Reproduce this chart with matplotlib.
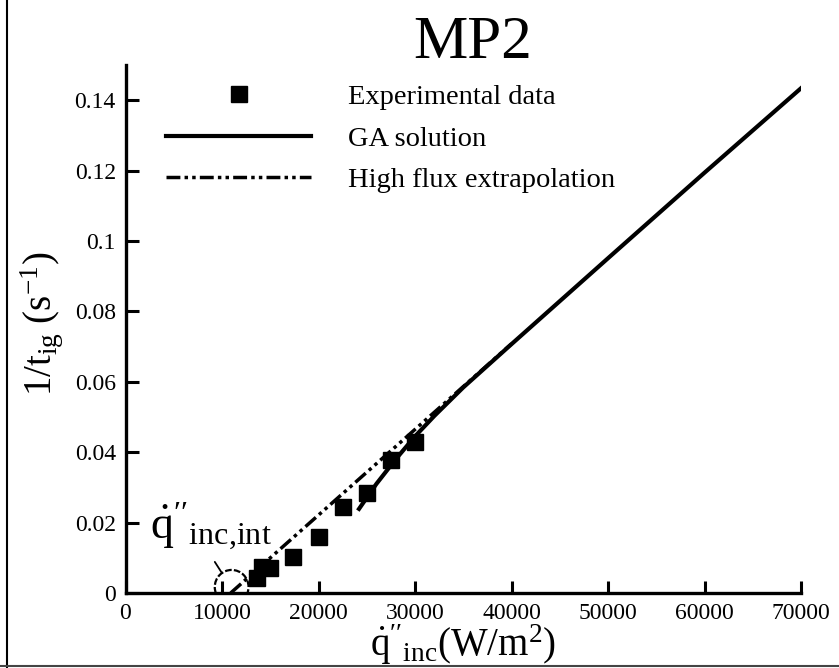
import numpy as np
import matplotlib
matplotlib.use("Agg")
import matplotlib.pyplot as plt
from matplotlib.patches import Ellipse
from matplotlib.lines import Line2D
from matplotlib.ticker import FuncFormatter

plt.rcParams['font.family'] = ['Liberation Serif', 'DejaVu Serif']
plt.rcParams['mathtext.fontset'] = 'custom'
plt.rcParams['mathtext.rm'] = 'Liberation Serif'
plt.rcParams['mathtext.it'] = 'Liberation Serif:italic'

# experimental points (incident flux W/m2, 1/t_ig 1/s)
exp_flux = [13600, 14100, 15000, 17400, 20000, 22500, 25000, 27500, 30000]
exp_rate = [0.0042, 0.0075, 0.0070, 0.0103, 0.0160, 0.0245, 0.0284, 0.0378, 0.0428]

# GA solution curve
ga_flux = [24200, 26000, 28000, 30000, 32000, 35000, 40000, 50000, 60000, 70000]
ga_rate = [0.0239, 0.0310, 0.0380, 0.0445, 0.0503, 0.0584, 0.0707, 0.0951, 0.1194, 0.1434]

# high flux linear extrapolation
hf_flux = [10900, 40000]
hf_rate = [0.0, 0.0708]

# critical flux marker
crit_flux = 11000
crit_rate = 0.0017

xticks = [0, 10000, 20000, 30000, 40000, 50000, 60000, 70000]
yticks = [0, 0.02, 0.04, 0.06, 0.08, 0.1, 0.12, 0.14]

W, H = 839, 668
fig = plt.figure(figsize=(W / 100, H / 100), dpi=100)
ax = fig.add_axes([125.5 / W, 1 - 593 / H, 675.5 / W, 528 / H])

ax.plot(hf_flux, hf_rate, color='black', lw=2.5,
        linestyle=(0, (4, 1.2, 1, 1.2, 1, 1.2)), label='High flux extrapolation', zorder=3)
ax.plot(ga_flux, ga_rate, color='black', lw=3, label='GA solution', zorder=4)
ax.plot(exp_flux, exp_rate, 's', color='black', ms=11, label='Experimental data', zorder=5)

# dashed circle around the critical flux
circ = Ellipse((crit_flux, crit_rate), width=3500, height=0.0097, fill=False,
               edgecolor='black', lw=1.6, linestyle=(0, (3, 1)), zorder=6)
ax.add_patch(circ)
ax.annotate('', xy=(10150, 0.0050), xytext=(9100, 0.0095),
            arrowprops=dict(arrowstyle='-', color='black', lw=1.3))
ax.text(2500, 0.0152, r"$\dot{\mathrm{q}}''_{\mathrm{inc{,}int}}$", fontsize=33)

ax.set_xlim(0, 70000)
ax.set_ylim(0, 0.15)
ax.set_xticks(xticks)
ax.set_yticks(yticks)
ax.yaxis.set_major_formatter(FuncFormatter(lambda v, p: '%g' % v))
ax.xaxis.set_major_formatter(FuncFormatter(lambda v, p: '%d' % v))
ax.tick_params(direction='in', length=9, width=2.2, labelsize=17, pad=7)
for s in ['top', 'right']:
    ax.spines[s].set_visible(False)
for s in ['left', 'bottom']:
    ax.spines[s].set_linewidth(2.4)

ax.set_xlabel(r"$\dot{\mathrm{q}}''_{\mathrm{inc}}(\mathrm{W/m}^{2})$", fontsize=28)
ax.xaxis.set_label_coords(0.5, -0.055)
ax.set_ylabel(r"$1/\mathrm{t}_{\mathrm{ig}}\ (\mathrm{s}^{-1})$", fontsize=28)
ax.yaxis.set_label_coords(-0.09, 0.51)

handles, labels = ax.get_legend_handles_labels()
order = [2, 1, 0]
ax.legend([handles[i] for i in order], [labels[i] for i in order],
          loc='upper left', bbox_to_anchor=(166 / W, 1 - 84 / H),
          bbox_transform=fig.transFigure, frameon=False, fontsize=20.5,
          numpoints=1, handlelength=5.1, handletextpad=1.3,
          labelspacing=0.55, borderpad=0, borderaxespad=0)

fig.text(473 / W, 1 - 58 / H, 'MP2', fontsize=44, ha='center', va='baseline')

# frame lines of the original figure panel
fig.add_artist(Line2D([7 / W, 7 / W], [0, 1], color='black', lw=1.5, transform=fig.transFigure))
fig.add_artist(Line2D([0, 1], [1 - 666 / H, 1 - 666 / H], color='#444444', lw=1.5,
                      transform=fig.transFigure))

fig.savefig('out.png', dpi=100)
